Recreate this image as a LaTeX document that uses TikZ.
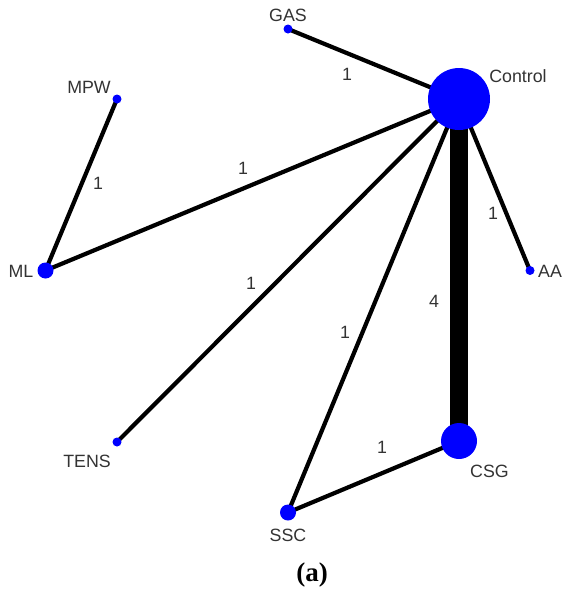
\documentclass[tikz,border=0pt]{standalone}
\usepackage{fontspec}
\setmainfont{Liberation Sans}
\newfontfamily\capfont{Liberation Serif}
\begin{document}
\begin{tikzpicture}[x=1pt,y=-1pt,
  vtx/.style={circle,fill=blue,draw=none,inner sep=0pt,minimum size=#1},
  lbl/.style={text=black!80,font=\fontsize{17.8}{20}\selectfont,inner sep=0pt},
  edge/.style={line width=4.2pt,black},
  heavy/.style={line width=18.5pt,black}]
\useasboundingbox (0,0) rectangle (563,592);
% treatment positions
\coordinate (pControl) at (459,99);
\coordinate (pGAS) at (288,29);
\coordinate (pMPW) at (117,99);
\coordinate (pML) at (45.5,270.5);
\coordinate (pAA) at (530,270.5);
\coordinate (pTENS) at (117,442);
\coordinate (pCSG) at (459,441);
\coordinate (pSSC) at (288,512.5);
% comparisons
\draw[edge] (pControl) -- (pGAS);
\draw[edge] (pControl) -- (pML);
\draw[edge] (pControl) -- (pTENS);
\draw[edge] (pControl) -- (pSSC);
\draw[edge] (pControl) -- (pAA);
\draw[edge] (pMPW) -- (pML);
\draw[edge] (pSSC) -- (pCSG);
\draw[heavy] (pControl) -- (pCSG);
% treatments
\node[vtx=62pt] (Control) at (pControl) {};
\node[vtx=9pt] (GAS) at (pGAS) {};
\node[vtx=9pt] (MPW) at (pMPW) {};
\node[vtx=16pt] (ML) at (pML) {};
\node[vtx=9pt] (AA) at (pAA) {};
\node[vtx=9pt] (TENS) at (pTENS) {};
\node[vtx=36pt] (CSG) at (pCSG) {};
\node[vtx=16pt] (SSC) at (pSSC) {};
% treatment names
\node[lbl] (tControl) at (518,76) {Control};
\node[lbl] (tGAS) at (288,15.5) {GAS};
\node[lbl] (tMPW) at (89,87) {MPW};
\node[lbl] (tML) at (21,271.5) {ML};
\node[lbl] (tAA) at (550,271) {AA};
\node[lbl] (tTENS) at (87,461) {TENS};
\node[lbl] (tCSG) at (489.5,471) {CSG};
\node[lbl] (tSSC) at (288,535) {SSC};
% number of studies
\node[lbl] (nGAS) at (347,74) {1};
\node[lbl] (nMPW) at (98,183) {1};
\node[lbl] (nML) at (243,168) {1};
\node[lbl] (nAA) at (493,213) {1};
\node[lbl] (nTENS) at (251,283) {1};
\node[lbl] (nCSG) at (434,301) {4};
\node[lbl] (nSSC) at (345,332) {1};
\node[lbl] (nSC) at (382,447) {1};
% caption
\node[inner sep=0pt,font=\capfont\bfseries\fontsize{27}{30}\selectfont] (cap) at (312,575) {(a)};
\end{tikzpicture}
\end{document}
